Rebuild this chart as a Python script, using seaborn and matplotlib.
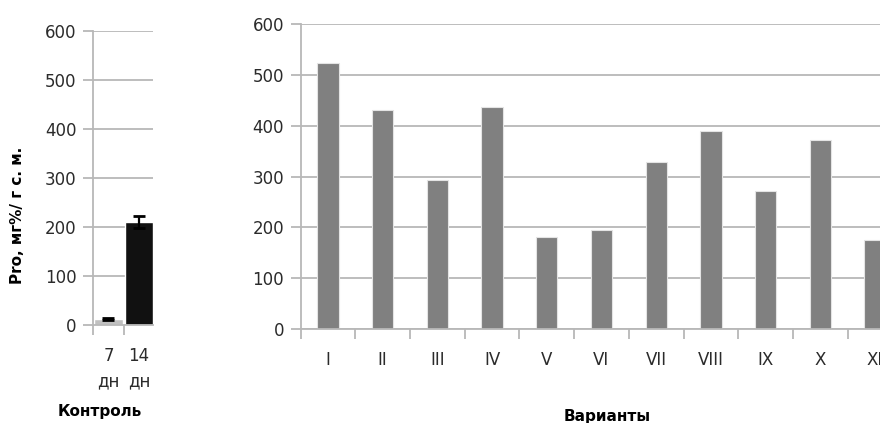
import matplotlib
matplotlib.use("Agg")
import matplotlib.pyplot as plt
import seaborn as sns

# Control: proline content on day 7 and day 14
control_days = ["7\nдн", "14\nдн"]
control_means = [12, 210]
control_errs = [2, 12]
control_colors = ["#c0c0c0", "#111111"]

# Treatment variants
variants = ["I", "II", "III", "IV", "V", "VI", "VII", "VIII", "IX", "X", "XI"]
variant_values = [523, 432, 293, 438, 182, 195, 329, 390, 271, 372, 176]

y_ticks = [0, 100, 200, 300, 400, 500, 600]

sns.set_style("white")
plt.rcParams["font.family"] = ["DejaVu Sans"]
plt.rcParams["axes.unicode_minus"] = False

W, H = 880, 423
fig = plt.figure(figsize=(W / 100, H / 100), dpi=100)

grid_color = "#b8b8b8"
text_color = "#2b2b2b"


def px_axes(x0, x1, y_top, y_bottom):
    return fig.add_axes([x0 / W, (H - y_bottom) / H, (x1 - x0) / W, (y_bottom - y_top) / H])


def style_axis(ax, boundaries, pad):
    ax.set_ylim(0, 600)
    ax.set_yticks(y_ticks)
    ax.yaxis.grid(True, color=grid_color, linewidth=1.3)
    ax.xaxis.grid(False)
    ax.set_axisbelow(True)
    for side in ("top", "right"):
        ax.spines[side].set_visible(False)
    for side in ("left", "bottom"):
        ax.spines[side].set_color(grid_color)
        ax.spines[side].set_linewidth(1.3)
    ax.tick_params(axis="y", which="major", length=7, width=1.3, color=grid_color,
                   labelsize=12, labelcolor=text_color, pad=5, left=True)
    ax.set_xticks(boundaries, minor=True)
    ax.tick_params(axis="x", which="minor", length=7, width=1.3, color=grid_color,
                   direction="out", bottom=True)
    ax.tick_params(axis="x", which="major", length=0, labelsize=12,
                   labelcolor=text_color, pad=pad)
    ax.set_xlabel("")
    ax.set_ylabel("")


# Left panel: control
ax1 = px_axes(93, 153, 31, 325)
sns.barplot(x=control_days, y=control_means, hue=control_days, palette=control_colors,
            width=0.92, saturation=1, legend=False, ax=ax1, errorbar=None)
ax1.errorbar(x=[0, 1], y=control_means, yerr=control_errs, fmt="none",
             ecolor="black", elinewidth=1.6, capsize=4, capthick=2)
ax1.set_xlim(-0.5, 1.45)
style_axis(ax1, [-0.5, 0.5], pad=16)
for lab in ax1.get_xticklabels():
    lab.set_linespacing(1.5)
    lab.set_horizontalalignment("center")

# Right panel: variants
ax2 = px_axes(300.7, 902.3, 24.3, 329)
sns.barplot(x=variants, y=variant_values, color="#808080", width=0.39,
            saturation=1, ax=ax2, errorbar=None, edgecolor="#e4e4e4", linewidth=0.8)
ax2.set_xlim(-0.5, 10.5)
style_axis(ax2, [i - 0.5 for i in range(len(variants) + 1)], pad=16)

fig.text(18 / W, 1 - 215 / H, "Pro, мг%/ г с. м.", rotation=90, ha="center",
         va="center", fontsize=11, fontweight="bold", color="black")
fig.text(100 / W, 1 - 411 / H, "Контроль", ha="center", va="center",
         fontsize=11, fontweight="bold", color="black")
fig.text(607 / W, 1 - 416 / H, "Варианты", ha="center", va="center",
         fontsize=11, fontweight="bold", color="black")

fig.savefig("out.png", dpi=100)
